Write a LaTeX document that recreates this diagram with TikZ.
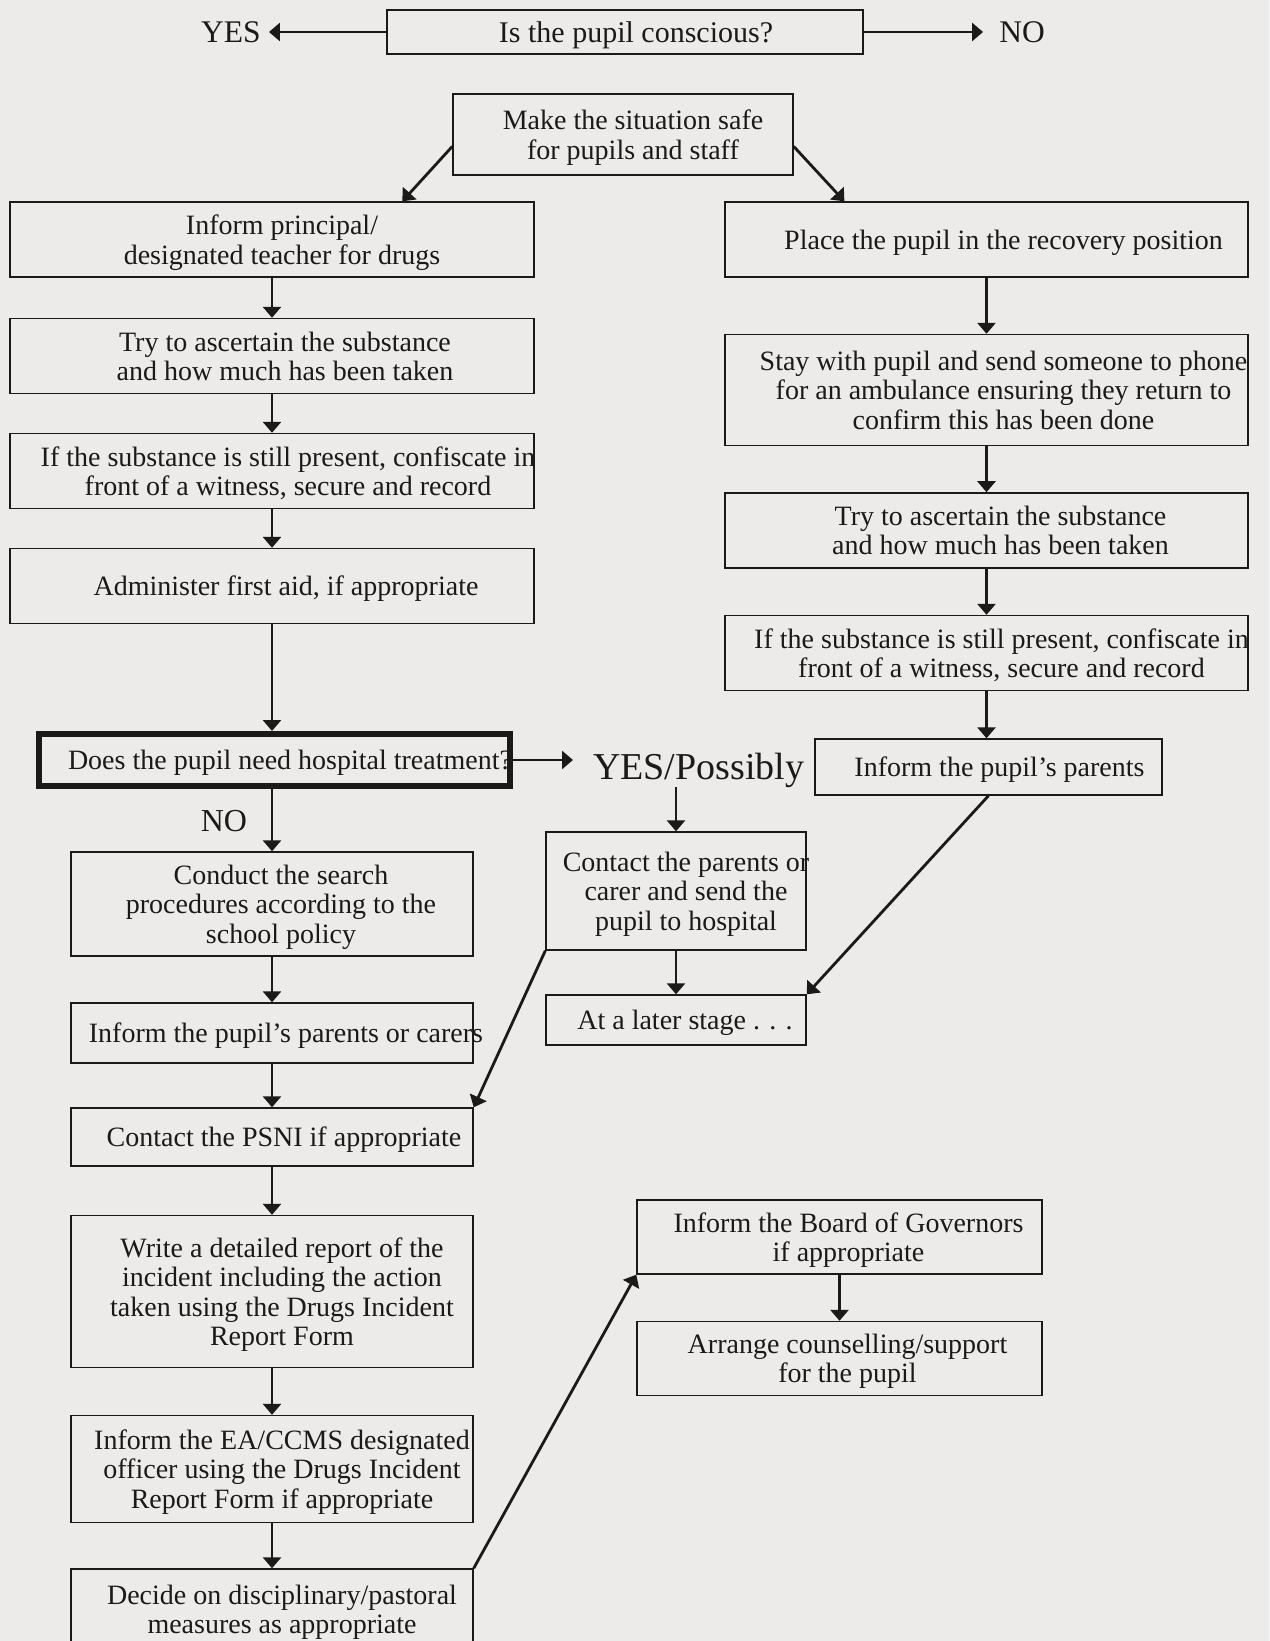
\documentclass[tikz,border=0pt]{standalone}
\usepackage{fontspec}
\setmainfont{Liberation Serif}
\usetikzlibrary{arrows.meta}
\usetikzlibrary{calc}
\definecolor{paper}{RGB}{236,235,233}
\definecolor{ink}{RGB}{26,26,26}
\newcommand\flowfont{\fontsize{28}{29.4}\selectfont}
\newcommand\askfont{\fontsize{30}{32}\selectfont}
\newcommand\yesnofont{\fontsize{31.5}{33}\selectfont}
\newcommand\bigyesfont{\fontsize{38}{40}\selectfont}

\begin{document}
\begin{tikzpicture}[x=1pt,y=1pt,yscale=-1,xscale=1,
  flowbox/.style={draw=ink, line width=1.4pt, inner sep=0pt},
  widebox/.style={flowbox, minimum width=524, minimum height=75},
  leftbox/.style={flowbox, minimum width=402},
  midbox/.style={flowbox, minimum width=260},
  govbox/.style={flowbox, minimum width=405, minimum height=74},
  flowtext/.style={align=center, inner sep=0pt, text=ink, font=\flowfont, text depth=-4pt},
  yesno/.style={text=ink, font=\yesnofont, inner sep=6pt},
  flowarrow/.style={draw=ink, line width=2.8pt, -{Triangle[length=11pt,width=18pt]}}]
\useasboundingbox (0,0) rectangle (1269,1641);
\fill[paper] (0,0) rectangle (1269,1641);
\clip (0,0) rectangle (1269,1641);

% Question at the top
\node[flowbox, line width=2pt, minimum width=476, minimum height=44] (ask) at (625,32) {};
\node[flowtext, font=\askfont] (asktxt) at ([xshift=11pt]ask.center) {Is the pupil conscious?};
\node[yesno, inner xsep=8pt] (yes) at (231,32) {YES};
\node[yesno, inner xsep=16pt] (no) at (1022,32) {NO};

% Make safe
\node[flowbox, minimum width=340, minimum height=81] (safe) at (623,134.5) {};
\node[flowtext] (safetxt) at ([xshift=10pt]safe.center) {Make the situation safe\\for pupils and staff};

% Left column
\node[widebox] (inform) at (272,239.5) {};
\node[flowtext] (informtxt) at ([xshift=10pt]inform.center) {Inform principal/\\designated teacher for drugs};
\node[widebox] (ascL) at (272,356) {};
\node[flowtext] (ascLtxt) at ([xshift=13pt]ascL.center) {Try to ascertain the substance\\and how much has been taken};
\node[widebox] (confL) at (272,471) {};
\node[flowtext] (confLtxt) at ([xshift=16pt]confL.center) {If the substance is still present, confiscate in\\front of a witness, secure and record};
\node[widebox] (aid) at (272,586) {};
\node[flowtext] (aidtxt) at ([xshift=14pt]aid.center) {Administer first aid, if appropriate};

% Hospital question
\node[flowbox, line width=6pt, minimum width=471, minimum height=52] (hosp) at (274,760) {};
\node[flowtext] (hosptxt) at ([xshift=16pt]hosp.center) {Does the pupil need hospital treatment?};
\node[yesno, font=\bigyesfont, anchor=base west, inner xsep=20pt, inner ysep=0pt] (ypos) at (573,779) {YES/Possibly};
\node[yesno, font=\fontsize{32}{34}\selectfont] (noH) at (224,821) {NO};

\node[leftbox, minimum height=104] (search) at (272,904) {};
\node[flowtext] (searchtxt) at ([xshift=9pt]search.center) {Conduct the search\\procedures according to the\\school policy};
\node[leftbox, minimum height=60] (parL) at (272,1033) {};
\node[flowtext] (parLtxt) at ([xshift=14pt]parL.center) {Inform the pupil’s parents or carers};
\node[leftbox, minimum height=58] (psni) at (272,1137) {};
\node[flowtext] (psnitxt) at ([xshift=12pt]psni.center) {Contact the PSNI if appropriate};
\node[leftbox, minimum height=152] (report) at (272,1291.5) {};
\node[flowtext] (reporttxt) at ([xshift=10pt]report.center) {Write a detailed report of the\\incident including the action\\taken using the Drugs Incident\\Report Form};
\node[leftbox, minimum height=107] (ea) at (272,1469) {};
\node[flowtext] (eatxt) at ([xshift=10pt]ea.center) {Inform the EA/CCMS designated\\officer using the Drugs Incident\\Report Form if appropriate};
\node[leftbox, minimum height=80] (decide) at (272,1609) {};
\node[flowtext] (decidetxt) at ([xshift=10pt]decide.center) {Decide on disciplinary/pastoral\\measures as appropriate};

% Right column
\node[widebox, minimum width=523] (recov) at (986.5,239.5) {};
\node[flowtext] (recovtxt) at ([xshift=17pt]recov.center) {Place the pupil in the recovery position};
\node[widebox, minimum width=523, minimum height=111] (amb) at (986.5,390) {};
\node[flowtext] (ambtxt) at ([xshift=17pt]amb.center) {Stay with pupil and send someone to phone\\for an ambulance ensuring they return to\\confirm this has been done};
\node[widebox, minimum width=523] (ascR) at (986.5,530.4) {};
\node[flowtext] (ascRtxt) at ([xshift=14pt]ascR.center) {Try to ascertain the substance\\and how much has been taken};
\node[widebox, minimum width=523] (confR) at (986.5,653) {};
\node[flowtext] (confRtxt) at ([xshift=15pt]confR.center) {If the substance is still present, confiscate in\\front of a witness, secure and record};
\node[flowbox, minimum width=347, minimum height=56] (parR) at (988.5,767) {};
\node[flowtext] (parRtxt) at ([xshift=11pt]parR.center) {Inform the pupil’s parents};

% Middle
\node[midbox, minimum height=118] (sendH) at (676,891) {};
\node[flowtext] (sendHtxt) at ([xshift=10pt]sendH.center) {Contact the parents or\\carer and send the\\pupil to hospital};
\node[midbox, minimum height=50] (later) at (676,1020) {};
\node[flowtext] (latertxt) at ([xshift=9pt]later.center) {At a later stage . . .};
\node[govbox] (board) at (839.5,1237) {};
\node[flowtext] (boardtxt) at ([xshift=9pt]board.center) {Inform the Board of Governors\\if appropriate};
\node[govbox] (couns) at (839.5,1358.5) {};
\node[flowtext] (counstxt) at ([xshift=8pt]couns.center) {Arrange counselling/support\\for the pupil};

% Arrows
\draw[flowarrow] (ask) -- (yes);
\draw[flowarrow] (ask) -- (no);
\draw[flowarrow] (safe.184) -- ($(inform.north west)!0.748!(inform.north east)$);
\draw[flowarrow] (safe.356) -- ($(recov.north west)!0.229!(recov.north east)$);
\draw[flowarrow] (inform) -- (ascL);
\draw[flowarrow] (ascL) -- (confL);
\draw[flowarrow] (confL) -- (aid);
\draw[flowarrow] (aid) -- (aid |- hosp.north);
\draw[flowarrow] (hosp.east) -- (hosp.east -| ypos.west);
\draw[flowarrow] (ypos.south -| sendH) -- (sendH);
\draw[flowarrow] (hosp.south -| search) -- (search);
\draw[flowarrow] (search) -- (parL);
\draw[flowarrow] (parL) -- (psni);
\draw[flowarrow] (psni) -- (report);
\draw[flowarrow] (report) -- (ea);
\draw[flowarrow] (ea) -- (decide);
\draw[flowarrow] (recov) -- (amb);
\draw[flowarrow] (amb) -- (ascR);
\draw[flowarrow] (ascR) -- (confR);
\draw[flowarrow] (confR) -- (confR |- parR.north);
\draw[flowarrow] (parR.south) -- (later.north east);
\draw[flowarrow] (sendH) -- (later);
\draw[flowarrow] (sendH.south west) -- (psni.north east);
\draw[flowarrow] (decide.north east) -- (board.south west);
\draw[flowarrow] (board) -- (couns);

\end{tikzpicture}
\end{document}
